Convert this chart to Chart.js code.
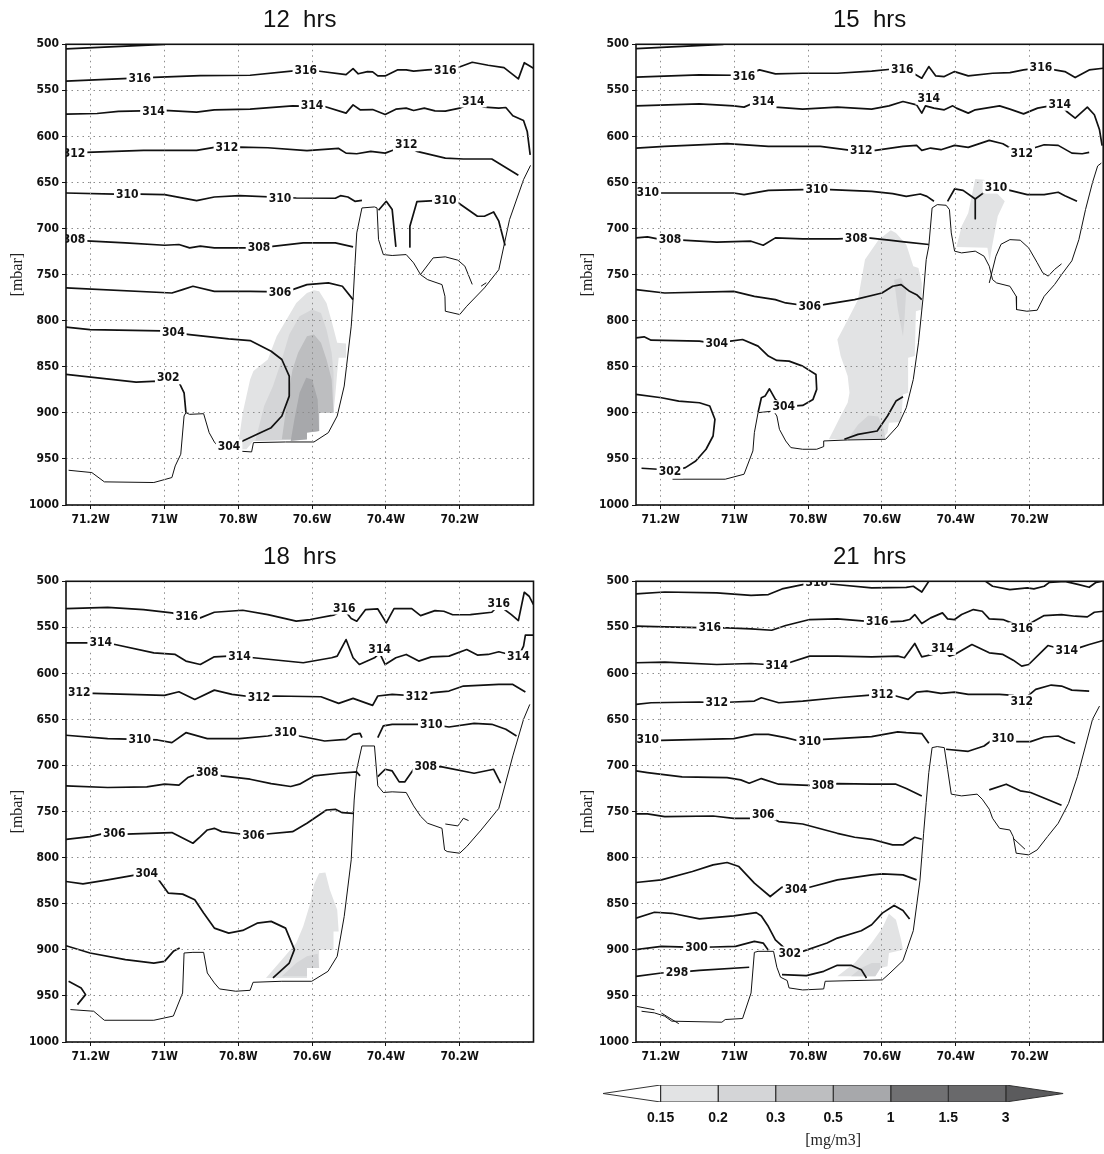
<!DOCTYPE html>
<html>
<head>
<meta charset="utf-8">
<script src="https://cdn.jsdelivr.net/npm/chart.js@4.4.1/dist/chart.umd.min.js"></script>
<style>
html,body{margin:0;padding:0;background:#fff;}
#wrap{position:relative;width:1104px;height:1154px;overflow:hidden;background:#fff;}
canvas{position:absolute;}
</style>
</head>
<body>
<div id="wrap">
<canvas id="c12" width="552" height="535" style="left:0;top:0"></canvas>
<canvas id="c15" width="534" height="535" style="left:570px;top:0"></canvas>
<canvas id="c18" width="552" height="535" style="left:0;top:537px"></canvas>
<canvas id="c21" width="534" height="535" style="left:570px;top:537px"></canvas>
<canvas id="cbar" width="500" height="79" style="left:583px;top:1075px"></canvas>
</div>
<script>
// ---------------- axes ----------------
const xMin = 70.0, xMax = 71.267;              // degrees West
const xTickVals = [71.2, 71.0, 70.8, 70.6, 70.4, 70.2];
const xTickText = ['71.2W', '71W', '70.8W', '70.6W', '70.4W', '70.2W'];
const yTickVals = [500, 550, 600, 650, 700, 750, 800, 850, 900, 950, 1000];
const panelTitles = ['12  hrs', '15  hrs', '18  hrs', '21  hrs'];

// ---------------- colour bar ----------------
const cbLevels = ['0.15', '0.2', '0.3', '0.5', '1', '1.5', '3'];
const cbColors = ['#e2e3e4', '#d4d5d7', '#bdbec0', '#a7a8ab', '#707072', '#69696b'];
const cbOver = '#5b5b5d';
const cbUnder = '#ffffff';

// ---------------- 12 hrs ----------------
const contours12 = [
 {lev:316, pts:[[71.267,505],[71.0,500]]},
 {lev:316, pts:[[71.267,540],[71.096,537],[71.029,536],[70.903,534],[70.768,533.6],[70.643,528.5],[70.585,529],[70.508,533],[70.489,526.4],[70.475,532],[70.45,529.6],[70.436,530],[70.422,534.3],[70.402,534.3],[70.369,527.8],[70.345,527.8],[70.325,529.2],[70.287,527.8],[70.21,526],[70.166,519.5],[70.123,522.7],[70.08,525.3],[70.041,537.5],[70.025,520],[70.0,526]]},
 {lev:314, pts:[[71.267,575.8],[71.183,575.1],[71.125,572.9],[71.0,571.8],[70.913,573.6],[70.865,571.1],[70.768,570.4],[70.653,566.8],[70.566,567.5],[70.508,574.7],[70.489,565.7],[70.47,571.1],[70.436,570.8],[70.402,576.2],[70.373,570.4],[70.345,569.3],[70.325,571.8],[70.296,569.3],[70.267,572.2],[70.239,572.6],[70.2,569.3],[70.166,563],[70.133,568.2],[70.094,569.3],[70.075,568.6],[70.056,577.6],[70.027,582.7],[70.017,594.6],[70.009,620]]},
 {lev:312, pts:[[71.267,618.1],[71.212,617.3],[71.057,615.2],[70.913,615.2],[70.865,611.9],[70.797,611.6],[70.72,612.3],[70.614,615.5],[70.528,613],[70.508,618.1],[70.479,618.8],[70.441,616.2],[70.402,618.1],[70.383,615.2],[70.345,610],[70.316,616.2],[70.239,623.5],[70.19,624.5],[70.113,624.5],[70.041,642.2]]},
 {lev:310, pts:[[71.267,661.4],[71.134,662.5],[71.067,662.5],[71.0,663.2],[70.913,669.7],[70.865,665.7],[70.797,664.3],[70.643,666.8],[70.537,667.1],[70.523,664.3],[70.503,665.7],[70.484,670.4],[70.465,669.3]]},
 {lev:310, pts:[[70.42,680.1],[70.399,670.4],[70.383,679.4],[70.373,719.9]]},
 {lev:310, pts:[[70.337,719.9],[70.335,697.5],[70.316,670.8],[70.267,669.7],[70.21,670.4],[70.152,686.6],[70.133,686.6],[70.108,682],[70.094,692],[70.077,718.4]]},
 {lev:308, pts:[[71.267,711.9],[71.212,713.4],[71.106,715.5],[71.0,718.1],[70.961,717.3],[70.932,720.9],[70.903,719.1],[70.865,720.9],[70.744,720.9],[70.701,719.1],[70.624,715.5],[70.537,715.5],[70.489,719.9]]},
 {lev:306, pts:[[71.267,764.4],[70.98,769.9],[70.951,766.2],[70.923,762.6],[70.865,768.1],[70.768,768.1],[70.687,768.8],[70.653,766.2],[70.614,760.8],[70.556,759],[70.518,762.6],[70.489,777.1]]},
 {lev:304, pts:[[71.267,807],[71.202,809.6],[71.009,811],[70.932,815],[70.826,819.7],[70.768,821.5],[70.711,833.1],[70.682,842.1],[70.662,860.1],[70.662,881.8],[70.682,903.4],[70.711,916.1],[70.749,923.3],[70.807,934.1],[70.831,935.5]]},
 {lev:302, pts:[[71.267,858.3],[71.077,866.6],[71.019,865.5],[70.961,866.6],[70.947,878.2],[70.942,899.8]]}
];
const labels12 = [[316,71.067,537],[316,70.617,528.5],[316,70.239,528],[314,71.03,572.6],[314,70.6,566.1],[314,70.163,561.5],
 [312,71.245,618],[312,70.831,611.9],[312,70.345,609],[310,71.101,663],[310,70.687,666.8],[310,70.239,669.7],
 [308,71.245,712],[308,70.744,720.9],[306,70.687,768.8],[304,70.976,812.5],[304,70.825,936],[302,70.99,862]];
const terrain12 = [
 [[71.26,962.3],[71.197,964.8],[71.163,974.9],[71.029,975.6],[70.98,970.2],[70.971,957.6],[70.956,944.9],[70.947,903.4],[70.942,899.8],[70.932,901.6],[70.894,900.9],[70.879,921.5],[70.865,931.6],[70.85,938.8],[70.807,941.3],[70.764,942.4],[70.759,932.3],[70.672,931.6],[70.595,931.6],[70.556,921.5],[70.532,903.4],[70.513,870.9],[70.494,805.9],[70.489,777.1],[70.484,740],[70.479,704.7],[70.465,677.6],[70.431,676.5],[70.424,677.6],[70.42,711.9],[70.407,728.2],[70.383,729.2],[70.345,728.2],[70.325,737.2],[70.306,750],[70.287,755.4],[70.248,760.8],[70.24,773.5],[70.239,789.7],[70.2,793.3],[70.181,784.3],[70.133,764.4],[70.094,744.6],[70.065,690.3],[70.027,646.9],[70.008,631.4]],
 [[70.306,749.8],[70.272,731.8],[70.239,730.7],[70.205,734.3],[70.186,740.8],[70.166,760.6]],
 [[70.142,762.5],[70.128,758.8]]
];
const shade12 = [
 {lvl:0, pts:[[70.802,939.5],[70.788,899.8],[70.768,863.7],[70.759,854.7],[70.72,842.1],[70.696,816.8],[70.672,800.5],[70.643,780.7],[70.614,769.9],[70.595,767],[70.581,768.1],[70.561,780.7],[70.547,800.5],[70.532,824],[70.508,824.7],[70.508,840.3],[70.528,840.3],[70.532,856.5],[70.537,880],[70.542,899.8],[70.581,899.8],[70.581,919.7],[70.614,920.8],[70.614,928.7],[70.759,930.5],[70.778,939.5]]},
 {lvl:1, pts:[[70.754,930.5],[70.73,892.6],[70.706,870.9],[70.682,842.1],[70.662,815],[70.634,795.1],[70.6,787.9],[70.576,791.5],[70.561,809.6],[70.547,834.8],[70.542,856.5],[70.542,899.8],[70.581,899.8],[70.581,919.7],[70.614,920.8],[70.614,928.7]]},
 {lvl:2, pts:[[70.682,928.7],[70.667,885.4],[70.653,852.9],[70.638,834.8],[70.614,816.8],[70.595,815],[70.576,824],[70.561,842.1],[70.547,863.7],[70.542,899.8],[70.581,899.8],[70.581,919.7],[70.614,920.8],[70.614,928.7]]},
 {lvl:3, pts:[[70.658,930.5],[70.648,907],[70.634,878.2],[70.616,862],[70.6,863.7],[70.585,885.4],[70.581,919.7],[70.614,921.6],[70.614,928.7]]}
];

// ---------------- 15 hrs ----------------
const contours15 = [
 {lev:316, pts:[[71.267,504.7],[71.03,500]]},
 {lev:316, pts:[[71.267,535.7],[71.095,533.2],[71.002,533.6],[70.974,534.3],[70.932,527.8],[70.889,532.1],[70.815,531.4],[70.721,531.4],[70.628,529.2],[70.576,527.1],[70.545,527.1],[70.515,531.4],[70.492,536.8],[70.473,524.2],[70.454,534.3],[70.431,535],[70.403,529.6],[70.366,534.3],[70.3,531.4],[70.253,530.7],[70.216,527.8],[70.169,525.3],[70.132,527.8],[70.104,529.6],[70.076,536.1],[70.038,527.8],[70.0,526]]},
 {lev:314, pts:[[71.267,566.8],[71.095,564.6],[71.002,566.8],[70.974,568.2],[70.95,563.9],[70.922,562.1],[70.889,568.2],[70.815,570.4],[70.721,568.2],[70.628,570.4],[70.581,566.8],[70.543,562.1],[70.506,565.7],[70.492,574.7],[70.482,566.8],[70.459,569.3],[70.431,571.1],[70.408,566.8],[70.398,569.3],[70.366,574.7],[70.347,571.1],[70.281,566.8],[70.253,570.4],[70.216,575.5],[70.178,569.3],[70.118,565],[70.099,572.9],[70.076,580.1],[70.043,568.2],[70.024,576.5],[70.01,592.8],[70.003,610]]},
 {lev:312, pts:[[71.267,612.6],[71.189,610.8],[71.02,607.9],[70.908,610.8],[70.767,610.8],[70.684,615.2],[70.618,615.2],[70.543,610.8],[70.506,609.7],[70.492,615.2],[70.468,612.6],[70.44,614.4],[70.403,609.7],[70.366,611.9],[70.309,604.3],[70.272,607.9],[70.244,614.4],[70.221,618.1],[70.197,613.7],[70.16,609],[70.122,609.7],[70.085,618.1],[70.057,618.8],[70.038,617.3]]},
 {lev:310, pts:[[71.267,660.6],[71.198,661.4],[71.002,661.4],[70.974,663.2],[70.908,658.5],[70.815,657.8],[70.74,657.8],[70.628,659.6],[70.571,662.1],[70.534,665],[70.496,662.5],[70.478,665],[70.459,670.4]]},
 {lev:310, pts:[[70.422,670.4],[70.403,657],[70.38,658.5],[70.347,667.9],[70.319,659.6],[70.291,656],[70.253,658.5],[70.206,663.2],[70.16,663.2],[70.122,660.6],[70.104,664.3],[70.071,670.4]]},
 {lev:310, pts:[[70.347,667.9],[70.347,689.2]]},
 {lev:308, pts:[[71.267,710.1],[71.236,709],[71.198,711.9],[71.142,712.6],[71.048,714.8],[70.955,713.7],[70.922,718.1],[70.889,710.1],[70.815,711.2],[70.721,711.2],[70.637,710.1],[70.581,712.6],[70.534,714.8],[70.473,717.3]]},
 {lev:306, pts:[[71.267,766.2],[71.189,769.9],[71.002,768.1],[70.946,773.5],[70.889,777.1],[70.861,780.7],[70.796,784.3],[70.758,782.5],[70.674,777.1],[70.6,769.9],[70.571,762.6],[70.548,760.8],[70.525,768.1],[70.506,771.7],[70.492,777.1]]},
 {lev:304, pts:[[71.267,818.6],[71.245,817.5],[71.226,821.1],[71.095,822.2],[71.048,825.1],[71.011,822.2],[70.978,820.4],[70.936,827.6],[70.908,838.4],[70.885,843.1],[70.852,843.9],[70.815,849.3],[70.779,858.3],[70.777,874.5],[70.787,885.4],[70.815,891.9],[70.866,893.3],[70.889,885.4],[70.905,873.9],[70.917,881.8],[70.927,883.6],[70.936,899.8]]},
 {lev:302, pts:[[71.252,960.1],[71.207,961.2],[71.175,964.1],[71.133,959.4],[71.105,952.2],[71.077,939.5],[71.058,925.1],[71.053,907],[71.067,892.6],[71.095,889],[71.151,887.2],[71.198,883.6],[71.267,880]]},
 {lev:302, pts:[[70.702,928.7],[70.665,923.3],[70.613,919.7],[70.585,903.4],[70.562,887.2],[70.543,882.5]]}
];
const labels15 = [[316,70.974,534.3],[316,70.545,527.1],[316,70.169,525.3],[314,70.922,562.1],[314,70.473,558.5],[314,70.118,565],
 [312,70.656,615.2],[312,70.221,618.1],[310,71.235,660.6],[310,70.777,657.5],[310,70.291,655],
 [308,71.175,711.9],[308,70.67,710.1],[306,70.796,784.3],[304,71.048,825.1],[304,70.866,893.3],[302,71.175,964]];
const terrain15 = [
 [[71.168,972],[71.025,972],[70.974,966.6],[70.95,941.3],[70.946,921.5],[70.936,899.8],[70.894,898],[70.885,903.4],[70.878,917.9],[70.861,930.5],[70.847,937.7],[70.815,939.5],[70.777,939.5],[70.758,936.6],[70.758,930.5],[70.693,929.4],[70.59,928.7],[70.557,914.3],[70.534,894.4],[70.515,863.7],[70.501,824],[70.489,777.1],[70.48,733.8],[70.473,719.1],[70.464,677.6],[70.45,674],[70.426,674.7],[70.417,679.4],[70.412,704.7],[70.403,724.5],[70.384,726.4],[70.347,724.5],[70.323,730],[70.309,740.8],[70.3,755.4],[70.289,759],[70.253,762.6],[70.236,773.5],[70.235,787.9],[70.207,789.7],[70.179,788.6],[70.16,773.5],[70.132,760.8],[70.113,750],[70.085,735],[70.066,712],[70.048,679.4],[70.029,650],[70.015,632],[70.005,628.9]],
 [[70.309,759],[70.291,730],[70.277,717],[70.253,712],[70.225,712.6],[70.202,721],[70.179,737],[70.164,748],[70.149,751.6],[70.132,744.4],[70.113,738.3]]
];
const shade15 = [
 {lvl:0, pts:[[70.576,701.8],[70.609,712],[70.646,733.6],[70.665,776.9],[70.674,784.3],[70.702,806],[70.721,820.4],[70.712,838.4],[70.693,860],[70.688,878.2],[70.693,889],[70.712,903.4],[70.73,917.9],[70.744,928.7],[70.599,928.7],[70.585,921.5],[70.581,910.6],[70.548,909.9],[70.543,880],[70.529,878.2],[70.529,840.3],[70.511,838.4],[70.508,789.7],[70.492,787.9],[70.492,759],[70.501,742.8],[70.515,740.8],[70.534,717.3],[70.562,704.7]]},
 {lvl:0, pts:[[70.347,646.2],[70.323,647],[70.267,670.4],[70.286,686.6],[70.302,720.9],[70.308,735.4],[70.314,720.9],[70.398,719.9],[70.384,697.5],[70.366,683]]},
 {lvl:1, pts:[[70.567,755.4],[70.548,753.6],[70.534,766.2],[70.539,798.7],[70.543,816.8],[70.557,787.9]]},
 {lvl:1, pts:[[70.693,928.7],[70.665,913],[70.637,903],[70.61,904],[70.595,918],[70.59,928.7]]}
];

// ---------------- 18 hrs ----------------
const contours18 = [
 {lev:316, pts:[[71.267,529.6],[71.154,528.2],[71.057,530.7],[70.98,534.3],[70.94,538.6],[70.903,539.7],[70.865,533.6],[70.788,531.4],[70.72,536.1],[70.643,543.3],[70.605,541.5],[70.542,536.8],[70.513,531],[70.494,540.4],[70.479,543.3],[70.455,530.7],[70.422,530],[70.399,545.1],[70.378,529.6],[70.33,529.6],[70.306,537.2],[70.267,531.8],[70.243,532.5],[70.219,536.3],[70.171,536.1],[70.113,533.6],[70.094,526],[70.06,536.1],[70.041,542.6],[70.025,511.9],[70.012,516.2],[70.0,525.3]]},
 {lev:314, pts:[[71.267,566.8],[71.173,566.8],[71.134,568.6],[71.029,577.6],[70.971,579.4],[70.942,586.6],[70.903,590.3],[70.865,582],[70.826,581.2],[70.797,581.2],[70.759,583],[70.624,588.4],[70.547,583],[70.532,581.2],[70.508,563.2],[70.489,583],[70.472,590.3],[70.431,583],[70.417,578],[70.402,590.3],[70.373,583],[70.345,579.4],[70.311,586.6],[70.277,582],[70.229,581.2],[70.181,574],[70.152,580.1],[70.123,579.4],[70.094,576.5],[70.065,579.4],[70.041,582],[70.027,570.4],[70.022,558.5],[70.0,558.5]]},
 {lev:312, pts:[[71.267,621.7],[71.192,621.7],[71.0,623.8],[70.961,619.9],[70.918,628.2],[70.865,618.1],[70.817,622.7],[70.744,626.4],[70.701,624.5],[70.576,625.3],[70.528,632.5],[70.489,627.1],[70.436,634.7],[70.422,624.5],[70.383,622.7],[70.316,624.5],[70.272,620.9],[70.229,619.1],[70.19,613.7],[70.094,611.9],[70.056,611.9],[70.022,620.2]]},
 {lev:310, pts:[[71.267,667.1],[71.154,670.8],[71.067,671.5],[71.019,672.2],[70.98,675.1],[70.942,664.3],[70.884,670.8],[70.797,670.8],[70.72,667.9],[70.672,664.3],[70.634,667.9],[70.566,673.3],[70.508,671.5],[70.489,666.1],[70.47,665],[70.465,669.7]]},
 {lev:310, pts:[[70.422,669.7],[70.407,657],[70.383,655.2],[70.277,655.2],[70.229,658.1],[70.161,654.2],[70.113,655.2],[70.075,660.6],[70.046,667.9]]},
 {lev:308, pts:[[71.267,722],[71.154,723.8],[71.048,723.1],[71.0,720.2],[70.961,721.3],[70.937,713],[70.908,708.7],[70.884,707.6],[70.845,711.2],[70.768,714.8],[70.711,719.5],[70.658,722.7],[70.634,720.2],[70.595,711.2],[70.528,708.3],[70.479,706.9],[70.47,711.2]]},
 {lev:308, pts:[[70.422,711.9],[70.402,704],[70.383,705.8],[70.364,717.7],[70.349,717.7],[70.325,704],[70.292,700.4],[70.248,701.4],[70.161,708.3],[70.108,704],[70.089,719.1]]},
 {lev:306, pts:[[71.267,780],[71.202,777.1],[71.163,773.5],[71.106,774.5],[70.98,772.7],[70.923,784.3],[70.903,777.1],[70.884,769.9],[70.865,768.1],[70.845,771.7],[70.788,774.5],[70.73,774.5],[70.653,771.7],[70.614,762.6],[70.561,748.2],[70.537,747.5],[70.518,751.1],[70.489,751.8]]},
 {lev:304, pts:[[71.267,825.8],[71.221,828.3],[71.154,824],[71.077,818.6],[71.048,817.5],[71.019,822.2],[70.99,838.4],[70.951,839.5],[70.918,845.7],[70.894,860.1],[70.865,876.4],[70.826,881.8],[70.788,878.9],[70.749,871],[70.711,869.1],[70.672,876.4],[70.648,899.8],[70.662,914.3],[70.691,925.1],[70.706,930.5]]},
 {lev:302, pts:[[71.267,895.5],[71.202,903.4],[71.106,910.6],[71.029,914.3],[71.0,912.5],[70.976,901.6],[70.959,898]]},
 {lev:302, pts:[[71.26,934.1],[71.226,941.3],[71.214,948.6],[71.236,959.4]]}
];
const labels18 = [[316,70.94,538.6],[316,70.513,529],[316,70.094,524.2],[314,71.173,566.8],[314,70.797,581.2],[314,70.417,574],[314,70.041,582],
 [312,71.231,620.9],[312,70.744,626.4],[312,70.316,624.5],[310,71.067,671.5],[310,70.672,664.3],[310,70.277,655.2],
 [308,70.884,707.6],[308,70.292,700.4],[306,71.136,773.5],[306,70.759,775.3],[304,71.048,817.5]];
const terrain18 = [
 [[71.255,964.8],[71.192,966.6],[71.163,976.4],[71.029,976.4],[70.976,971.8],[70.951,946.8],[70.947,903.4],[70.923,902.7],[70.894,902.7],[70.884,925.1],[70.865,935.9],[70.851,942.4],[70.807,944.9],[70.768,943.9],[70.76,935.2],[70.682,934.1],[70.601,934.1],[70.557,923.3],[70.532,907],[70.513,863.7],[70.494,802.3],[70.486,737.4],[70.479,704],[70.465,678.7],[70.431,678.7],[70.422,722],[70.407,729.2],[70.383,728.5],[70.345,729.2],[70.325,743.7],[70.306,755],[70.287,762.6],[70.248,768.1],[70.241,791.5],[70.234,793.3],[70.2,795.1],[70.181,787.9],[70.142,769.9],[70.094,746.4],[70.056,689.5],[70.027,649.8],[70.01,633.6]],
 [[70.239,763.4],[70.205,765.5],[70.19,757.2],[70.176,759.7]]
];
const shade18 = [
 {lvl:0, pts:[[70.725,930.5],[70.682,910.6],[70.643,892.6],[70.624,874.5],[70.605,849.3],[70.595,829.4],[70.581,816.8],[70.564,816.1],[70.552,834.8],[70.532,856.5],[70.528,880],[70.542,880],[70.542,899.8],[70.581,899.8],[70.581,919.7],[70.614,919.7],[70.614,930.5]]},
 {lvl:1, pts:[[70.682,928.7],[70.643,914.3],[70.614,907],[70.585,904.1],[70.581,919.7],[70.614,919.7],[70.614,928.7]]}
];

// ---------------- 21 hrs ----------------
const contours21 = [
 {lev:318, pts:[[71.267,513.7],[71.189,511.6],[71.048,512.6],[70.955,515.2],[70.908,514.4],[70.871,508.3],[70.815,503.6],[70.777,501.1],[70.74,502.9],[70.628,507.2],[70.534,506.5],[70.515,505.4],[70.492,511.6],[70.473,500]]},
 {lev:318, pts:[[70.319,500],[70.3,505.4],[70.253,509],[70.206,507.2],[70.188,508.3],[70.16,505.4],[70.146,501.1],[70.104,500],[70.066,503.6],[70.038,506.5],[70.019,501.1],[70.005,500]]},
 {lev:316, pts:[[71.267,548.7],[71.189,549.5],[71.067,550.5],[71.02,550.5],[70.955,551.6],[70.899,553.1],[70.861,548],[70.796,541.5],[70.721,540.8],[70.646,543.3],[70.613,543.3],[70.581,544],[70.543,543.3],[70.525,541.5],[70.511,536.1],[70.492,545.8],[70.468,539.7],[70.436,534.3],[70.422,540.8],[70.403,541.5],[70.384,536.1],[70.352,530.7],[70.328,532.5],[70.309,540.8],[70.272,541.5],[70.249,545.1],[70.221,551.6],[70.188,543.3],[70.16,537.2],[70.113,536.1],[70.076,537.9],[70.043,538.6],[70.024,533.6],[70.0,532.5]]},
 {lev:314, pts:[[71.267,588.4],[71.189,587.7],[71.048,590.3],[70.955,589.2],[70.913,590.3],[70.885,591.3],[70.852,588.4],[70.796,581.2],[70.721,581.2],[70.628,582],[70.557,581.2],[70.539,583],[70.511,567.5],[70.492,582],[70.464,579.4],[70.436,572.9],[70.417,581.2],[70.403,579.4],[70.356,568.6],[70.309,577.6],[70.272,579.4],[70.244,585.6],[70.221,592.1],[70.202,590.3],[70.15,569.7],[70.099,575.1],[70.066,572.2],[70.038,568.6],[70.0,564.3]]},
 {lev:312, pts:[[71.267,633.6],[71.226,631.8],[71.095,631],[71.048,631.8],[71.002,631],[70.946,630],[70.927,626.4],[70.88,631.8],[70.815,630],[70.721,626.4],[70.632,623.5],[70.599,622.7],[70.562,624.5],[70.529,628.2],[70.506,620.2],[70.478,619.1],[70.44,621.7],[70.403,620.2],[70.366,622.7],[70.281,622.7],[70.244,623.8],[70.221,630],[70.183,617.3],[70.141,612.6],[70.113,613.7],[70.085,618.1],[70.038,619.1]]},
 {lev:310, pts:[[71.267,671.5],[71.198,672.6],[71.002,670.8],[70.946,666.1],[70.908,666.1],[70.861,669.7],[70.824,673.3],[70.796,673.3],[70.758,671.5],[70.628,668.6],[70.557,663.5],[70.534,664.3],[70.492,665.3],[70.473,675.8]]},
 {lev:310, pts:[[70.426,682.3],[70.366,684.5],[70.323,678.7],[70.305,673.3],[70.272,670.8],[70.235,674],[70.197,674],[70.16,669],[70.122,667.9],[70.104,671.5],[70.076,675.8]]},
 {lev:308, pts:[[71.267,705.8],[71.236,707.6],[71.142,712.3],[71.02,713],[70.983,715.5],[70.96,719.1],[70.927,714.1],[70.88,720.2],[70.815,721.3],[70.76,722],[70.721,719.5],[70.628,720.2],[70.562,720.2],[70.534,724.9],[70.492,732.9]]},
 {lev:308, pts:[[70.309,726.4],[70.263,720.2],[70.225,727.4],[70.197,729.2],[70.113,743]]},
 {lev:306, pts:[[71.267,752.5],[71.236,752.5],[71.189,755.4],[71.058,754.7],[71.002,757.2],[70.955,757.2],[70.922,752.5],[70.88,760.8],[70.815,763.4],[70.721,773.5],[70.674,777.8],[70.628,780],[70.571,786.1],[70.543,786.1],[70.511,777.8],[70.492,780]]},
 {lev:304, pts:[[71.267,826.9],[71.198,824],[71.114,815],[71.058,807.8],[71.02,805.2],[70.988,809.6],[70.946,827.6],[70.903,842.1],[70.871,832],[70.833,834.8],[70.796,832],[70.721,824],[70.628,818.6],[70.599,817.5],[70.543,818.6],[70.506,824]]},
 {lev:302, pts:[[71.267,865.7],[71.217,859.2],[71.17,860.3],[71.095,866.4],[71.002,863.2],[70.941,859.6],[70.927,863.2],[70.908,874.7],[70.889,889.2],[70.85,903.4],[70.815,901.6],[70.749,892.6],[70.721,887.2],[70.656,879.2],[70.628,872.7],[70.599,860.1],[70.567,851.8],[70.543,857.2],[70.525,866.6]]},
 {lev:300, pts:[[71.267,899.8],[71.198,896.2],[71.103,897.3],[71.058,896.9],[70.997,896.2],[70.946,890.8],[70.922,892.6],[70.908,900.5]]},
 {lev:298, pts:[[71.267,928.7],[71.198,925.1],[71.156,924.4],[71.095,922.2],[70.96,918.9]]},
 {lev:300, pts:[[70.871,926.9],[70.805,928],[70.758,923.3],[70.721,916.8],[70.684,916.8],[70.656,921.5],[70.642,930.5]]}
];
const labels21 = [[318,70.777,501.5],[316,71.067,550.5],[316,70.613,543.3],[316,70.221,551.6],[314,70.885,591.3],[314,70.436,572.9],[314,70.099,575.1],
 [312,71.048,631.8],[312,70.599,622.7],[312,70.221,630],[310,71.235,671.5],[310,70.796,673.3],[310,70.272,670.8],
 [308,70.76,722],[306,70.922,752.5],[304,70.833,834.8],[302,70.85,903.4],[300,71.103,897.3],[298,71.156,924.4]];
const terrain21 = [
 [[71.252,966.6],[71.217,968.4],[71.189,972],[71.17,977.4],[71.034,978.5],[71.025,975.6],[70.978,974.5],[70.955,946.8],[70.946,902.7],[70.936,901.6],[70.894,901.6],[70.885,918.9],[70.875,929.7],[70.857,933.3],[70.852,941.3],[70.815,943.5],[70.758,942.4],[70.754,934.1],[70.599,932.6],[70.581,926.2],[70.543,911.7],[70.515,879.2],[70.497,825],[70.487,773.5],[70.48,740],[70.473,707.6],[70.464,680.5],[70.45,679.4],[70.431,680.5],[70.422,704],[70.412,731],[70.384,732.9],[70.342,731],[70.328,736.5],[70.309,747.3],[70.3,757.2],[70.281,768.1],[70.253,769.9],[70.244,777.1],[70.236,795.1],[70.202,796.9],[70.179,791.5],[70.151,777.1],[70.122,762.6],[70.094,741],[70.07,712],[70.048,678.7],[70.029,649.8],[70.01,635.4]],
 [[71.265,961.4],[71.217,965]],
 [[71.198,968.6],[71.151,980.1]],
 [[70.244,778.9],[70.212,790.8]]
];
const shade21 = [
 {lvl:0, pts:[[70.721,928.7],[70.674,914.3],[70.628,892.6],[70.599,876.4],[70.581,860.8],[70.562,867.3],[70.548,889],[70.543,899.8],[70.581,903.4],[70.585,917.9],[70.604,919.7],[70.618,928.7]]},
 {lvl:1, pts:[[70.684,928.7],[70.656,919.7],[70.628,914.3],[70.604,914.3],[70.604,919.7],[70.618,928.7]]}
];

// ---------------- drawing ----------------
const NARROW = '"Liberation Sans Narrow", "DejaVu Sans Condensed", "Liberation Sans", sans-serif';
const tickFont = {family: NARROW, size: 12, weight: 'bold'};
const toXY = pts => pts.map(([x, y]) => ({x, y}));

function makeDecor(labels) {
  return {
    id: 'decor',
    afterDraw(chart) {
      const {ctx, chartArea: a, scales} = chart;
      ctx.save();
      ctx.beginPath(); ctx.rect(a.left, a.top, a.width, a.height); ctx.clip();
      ctx.font = 'bold 12px ' + NARROW;
      ctx.textAlign = 'center'; ctx.textBaseline = 'middle';
      labels.forEach(([lev, lon, p]) => {
        const x = scales.x.getPixelForValue(lon), y = scales.y.getPixelForValue(p);
        const t = String(lev), w = ctx.measureText(t).width;
        ctx.fillStyle = '#fff'; ctx.fillRect(x - w / 2 - 2, y - 6.5, w + 4, 13);
        ctx.fillStyle = '#111'; ctx.fillText(t, x, y + 0.5);
      });
      ctx.restore();
      ctx.save(); ctx.strokeStyle = '#111'; ctx.lineWidth = 1.6;
      ctx.strokeRect(a.left, a.top, a.width, a.height); ctx.restore();
    }
  };
}

const shadeColors = cbColors;

function panelDatasets(contours, terrain, shade) {
  const ds = [];
  shade.forEach(s => ds.push({data: toXY(s.pts), fill: 'shape', backgroundColor: shadeColors[s.lvl],
    borderColor: 'rgba(0,0,0,0)', borderWidth: 0, pointRadius: 0, order: 20 - s.lvl}));
  terrain.forEach(t => ds.push({data: toXY(t), fill: false, borderColor: '#111', borderWidth: 1,
    pointRadius: 0, order: 1}));
  contours.forEach(c => ds.push({data: toXY(c.pts), fill: false, borderColor: '#111', borderWidth: 1.7,
    pointRadius: 0, order: 0, borderJoinStyle: 'round'}));
  return ds;
}

const gridOpts = {color: '#8c8c8c', lineWidth: 1, tickLength: 4, tickColor: '#111', tickWidth: 1, tickBorderDash: [], z: 1};
const borderOpts = {display: false, dash: [1.5, 4]};

function makePanel(id, title, contours, terrain, shade, labels, rightPad) {
  return new Chart(document.getElementById(id), {
    type: 'line',
    data: {datasets: panelDatasets(contours, terrain, shade)},
    options: {
      responsive: false, animation: false, devicePixelRatio: 1, events: [],
      layout: {padding: {left: 0, right: rightPad, top: 0, bottom: 0}},
      plugins: {
        legend: {display: false}, tooltip: {enabled: false},
        title: {display: true, text: title, fullSize: false, color: '#111',
          font: {family: '"Liberation Sans", Arial, sans-serif', size: 24, weight: 'normal'},
          padding: {top: 6, bottom: 9.5}}
      },
      scales: {
        x: {type: 'linear', reverse: true, min: xMin, max: xMax,
          afterBuildTicks: s => { s.ticks = xTickVals.map(v => ({value: v})); },
          afterFit: s => { s.height = 30; },
          ticks: {callback: (v, i) => xTickText[i], font: tickFont, color: '#111', padding: 4, maxRotation: 0, autoSkip: false},
          grid: gridOpts, border: borderOpts},
        y: {type: 'linear', reverse: true, min: 500, max: 1000,
          afterBuildTicks: s => { s.ticks = yTickVals.map(v => ({value: v})); },
          afterFit: s => { s.width = 66; },
          title: {display: true, text: '[mbar]', color: '#222',
            font: {family: '"Liberation Serif", "Times New Roman", serif', size: 16, weight: 'normal'},
            padding: {top: 8, bottom: 0}},
          ticks: {callback: v => String(v), font: tickFont, color: '#111', padding: 3, autoSkip: false},
          grid: gridOpts, border: borderOpts}
      }
    },
    plugins: [makeDecor(labels)]
  });
}

makePanel('c12', panelTitles[0], contours12, terrain12, shade12, labels12, 18.5);
makePanel('c15', panelTitles[1], contours15, terrain15, shade15, labels15, 0.8);
makePanel('c18', panelTitles[2], contours18, terrain18, shade18, labels18, 18.5);
makePanel('c21', panelTitles[3], contours21, terrain21, shade21, labels21, 0.8);

// ---------------- colour bar ----------------
const cbDatasets = [];
cbDatasets.push({data: [{x: 0, y: 0}, {x: -1, y: 0.5}, {x: 0, y: 1}, {x: 0, y: 0}], fill: 'shape',
  backgroundColor: cbUnder, borderColor: '#333', borderWidth: 1, pointRadius: 0});
cbColors.forEach((c, i) => cbDatasets.push({
  data: [{x: i, y: 0}, {x: i + 1, y: 0}, {x: i + 1, y: 1}, {x: i, y: 1}, {x: i, y: 0}],
  fill: 'shape', backgroundColor: c, borderColor: '#333', borderWidth: 1, pointRadius: 0}));
const nB = cbColors.length;
cbDatasets.push({data: [{x: nB, y: 0}, {x: nB + 1, y: 0.5}, {x: nB, y: 1}, {x: nB, y: 0}], fill: 'shape',
  backgroundColor: cbOver, borderColor: '#333', borderWidth: 1, pointRadius: 0});

new Chart(document.getElementById('cbar'), {
  type: 'line',
  data: {datasets: cbDatasets},
  options: {
    responsive: false, animation: false, devicePixelRatio: 1, events: [],
    layout: {padding: {left: 20, right: 19.7, top: 10, bottom: 0}},
    plugins: {legend: {display: false}, tooltip: {enabled: false}},
    scales: {
      x: {type: 'linear', min: -1, max: nB + 1,
        afterBuildTicks: s => { s.ticks = cbLevels.map((v, i) => ({value: i})); },
        afterFit: s => { s.height = 52; },
        ticks: {callback: (v, i) => cbLevels[i], font: {family: '"Liberation Sans", Arial, sans-serif', size: 14, weight: 'bold'},
          color: '#111', padding: 0, maxRotation: 0, autoSkip: false},
        grid: {display: false}, border: {display: false},
        title: {display: true, text: '[mg/m3]', color: '#222',
          font: {family: '"Liberation Serif", "Times New Roman", serif', size: 16, weight: 'normal'},
          padding: {top: 0, bottom: 4}}},
      y: {type: 'linear', min: 0, max: 1, display: false}
    }
  }
});
</script>
</body>
</html>
